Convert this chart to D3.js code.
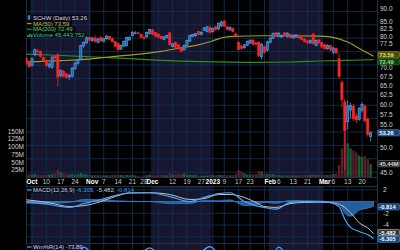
<!DOCTYPE html>
<html>
<head>
<meta charset="utf-8">
<script src="https://cdn.jsdelivr.net/npm/d3@7"></script>
<style>
  html, body { margin: 0; padding: 0; background: #000; }
  svg { display: block; font-family: "Liberation Sans", Arial, sans-serif; }
</style>
</head>
<body>
<div id="chart"></div>
<script>
// SCHW daily, Sep 29 2022 .. Mar 24 2023
const startDay = "2022-09-29", endDay = "2023-03-24";
const holidays = ["2022-11-24", "2022-12-26", "2023-01-02", "2023-01-16", "2023-02-20"];

const opens = [73.0,71.6, 70.8,74.0,75.2,75.0,73.2, 72.2,70.5,70.2,73.6,74.0, 67.8,69.0,68.3,67.4,67.6,
  69.8,71.4,72.6,76.8,77.8, 79.6,78.6,79.5,78.0,79.6, 78.4,79.2,79.9,79.2,78.2, 77.6,75.8,76.8,77.0,78.8,
  80.2,81.0,81.2,80.7, 79.7,79.8,81.0,82.2,81.3, 80.8,80.0,79.0,79.6,81.2, 76.6,77.9,77.2,76.3,75.6,
  77.0,78.4,80.0,80.2,81.6, 80.6,82.0,81.6, 83.0,81.6,83.3,82.6, 83.6,85.3,83.3,82.2,82.8, 80.8,78.0,76.8,76.2,
  77.0,77.8,78.8,77.8,78.0, 73.4,76.6,75.5,78.0,79.4, 81.2,80.0,79.8,81.2,80.0, 80.6,79.5,79.8,80.4,79.6,
  79.0,78.5,77.8,80.8, 77.0,78.8,78.0,77.2,75.9, 77.0,74.8,76.0,72.8,65.8, 60.7,55.8,58.6,59.6,57.2,
  56.4,58.6,59.6,56.4,52.4];
const highs = [73.4,72.3, 73.2,76.0,75.9,75.4,73.4, 72.6,71.6,73.6,74.0,74.6, 69.6,69.4,68.6,68.3,70.3,
  71.8,72.8,77.3,78.3,79.9, 80.0,79.8,80.3,79.4,80.0, 79.4,80.4,80.1,79.6,78.5, 78.0,77.3,78.6,79.9,80.0,
  81.8,81.8,81.7,80.9, 80.3,81.6,82.6,82.5,81.5, 81.0,80.2,80.2,80.6,81.6, 77.8,78.4,77.5,76.6,77.3,
  78.9,80.6,80.9,81.2,81.9, 81.7,83.2,83.6, 83.8,83.0,83.6,84.8, 85.6,85.8,83.6,83.4,83.0, 81.4,78.3,77.2,77.5,
  78.6,79.0,79.0,78.3,78.3, 77.8,77.0,78.5,79.8,81.3, 81.5,81.4,80.6,81.5,81.4, 80.9,80.7,80.8,80.7,79.9,
  79.5,78.9,79.0,81.2, 79.0,79.0,78.2,77.5,77.4, 77.3,76.6,76.3,74.5,66.5, 61.5,61.0,60.4,60.2,57.8,
  59.4,60.6,60.0,56.8,53.6];
const lows = [70.8,70.0, 70.5,73.6,73.8,73.2,71.9, 70.4,69.9,69.8,72.5,64.8, 67.2,67.3,66.9,66.6,67.2,
  69.4,71.0,72.3,76.3,77.5, 78.4,78.2,78.0,77.6,78.2, 78.0,78.9,78.8,77.9,76.4, 75.3,75.5,76.5,76.6,78.5,
  80.0,80.6,80.7,79.4, 79.0,79.6,80.6,80.4,79.8, 79.4,79.0,78.8,79.3,76.8, 76.3,76.2,75.6,74.8,75.3,
  76.7,78.1,79.7,79.8,80.3, 80.4,81.8,81.3, 81.0,81.2,82.0,82.0, 83.3,83.2,82.1,81.8,81.4, 79.6,75.4,75.6,75.9,
  76.8,77.5,77.0,77.0,73.4, 72.6,74.4,75.0,77.6,79.1, 79.8,79.7,79.4,79.8,79.6, 79.3,79.2,79.4,79.2,78.6,
  78.0,77.5,77.5,77.3, 76.7,77.5,76.2,75.6,75.6, 75.2,74.2,74.2,67.0,59.2, 45.5,54.0,56.5,56.0,55.5,
  56.0,58.0,55.6,52.4,51.4];
const closes = [71.2,70.4, 72.8,75.6,75.0,73.5,72.2, 70.7,71.2,73.3,73.0,67.4, 69.2,67.6,67.2,67.9,70.0,
  71.5,72.6,76.9,77.9,79.6, 78.7,79.4,78.3,79.1,78.5, 79.2,80.1,79.0,78.2,76.7, 75.6,77.0,78.4,79.6,79.7,
  81.4,81.2,81.0,79.7, 79.4,81.3,82.3,80.6,80.0, 79.6,79.3,79.8,80.3,77.3, 77.5,76.4,75.9,75.0,77.0,
  78.6,80.3,80.6,80.9,80.6, 81.4,82.9,83.3, 81.3,82.8,82.3,84.6, 85.0,83.5,82.3,83.1,81.6, 80.2,75.7,76.0,77.2,
  78.3,78.7,77.3,77.4,73.8, 77.4,74.8,78.2,79.4,81.0, 80.1,81.1,80.3,80.1,81.1, 79.6,80.4,80.5,79.5,78.9,
  78.3,77.8,78.7,77.6, 78.7,77.8,76.5,75.9,77.0, 75.5,76.2,74.6,67.5,61.2, 53.7,59.6,59.8,56.5,56.2,
  59.0,60.0,56.0,52.9,53.26];
// volume, millions
const volumes = [12,11, 10,12,9,9,10, 9,10,11,14,26, 18,14,12,10,12, 10,11,16,12,11, 9,8,9,8,8, 7,8,8,10,9,
  10,9,8,9,8, 9,7,5,4, 7,8,11,8,7, 8,9,8,7,14, 10,10,11,12,14, 9,10,8,9,5, 6,6,7, 10,9,8,10, 9,9,8,8,8,
  13,24,20,14, 10,10,11,12,22, 20,14,13,11,12, 9,8,7,8,7, 8,7,7,8,8, 9,8,9,12, 9,10,10,10,9,
  10,12,14,42,95, 148,112,95,88,82, 72,68,70,60,45.44];

// moving averages, sampled by trading-day index (0 = Oct 3)
const maIdx   = [-2, 10, 20, 30, 34, 45, 52, 58, 63, 67, 70, 80, 90, 100, 104, 110, 115, 119];
const ma50    = [71.8, 72.2, 72.7, 73.6, 73.9, 75.1, 76.2, 77.2, 78.5, 79.7, 80.0, 80.2, 80.2, 80.1, 79.8, 78.1, 75.5, 73.59];
const ma200Idx = [-2, 10, 20, 34, 45, 60, 75, 90, 100, 110, 119];
const ma200    = [74.2, 73.8, 73.4, 72.8, 72.3, 71.9, 71.7, 71.8, 72.1, 72.3, 72.49];

// MACD(12,26,9), sampled
const macdIdx = [-2, 6, 13, 18, 24, 29, 34, 41, 48, 55, 60, 65, 69, 74, 78, 81, 85, 90, 95, 100, 104, 107, 109, 111, 114, 118, 119];
const macd    = [0.0, -0.5, -1.0, -0.35, 0.35, 1.0, 1.5, 1.5, 0.85, 0.0, 0.7, 1.35, 1.5, 0.0, -0.7, -1.0, -1.3, -0.15, 0.0, 0.0, -0.2, -0.85, -3.0, -4.4, -5.1, -5.9, -6.305];
const signal  = [0.3, -0.2, -0.85, -0.7, 0.0, 0.85, 1.45, 1.5, 1.2, 0.35, 0.5, 1.2, 1.2, 0.7, -0.15, -0.85, -1.0, -0.35, -0.15, -0.1, -0.15, -0.5, -1.0, -1.9, -3.6, -4.9, -5.482];
const hist    = [-0.3, -0.3, -0.15, 0.35, 0.35, 0.15, 0.05, 0.0, -0.35, -0.35, 0.2, 0.15, 0.3, -0.7, -0.55, -0.15, -0.3, 0.2, 0.15, 0.1, -0.05, -0.35, -2.0, -2.5, -1.5, -1.0, -0.814];

// Williams %R(14), sampled
const wrIdx = [-2, 5, 10, 15, 18, 22, 30, 36, 41, 44, 50, 56, 62, 66, 72, 78, 82, 86, 90, 96, 102, 108, 113, 116, 119];
const wr    = [-60, -70, -85, -40, -2, -20, -55, -25, -3, -15, -70, -30, -1, -20, -45, -70, -40, -2, -25, -55, -75, -95, -70, -60, -73.89];

// axis labels
const tickDays = ["2022-10-03","2022-10-10","2022-10-17","2022-10-24","2022-11-01","2022-11-07","2022-11-14",
  "2022-11-21","2022-11-28","2022-12-01","2022-12-12","2022-12-19","2022-12-27","2023-01-03","2023-01-09",
  "2023-01-17","2023-01-23","2023-02-01","2023-02-06","2023-02-13","2023-02-21","2023-03-01","2023-03-06",
  "2023-03-13","2023-03-20"];
const tickText = ["Oct","10","17","24","Nov","7","14","21","28","Dec","12","19","27","2023","9","17","23",
  "Feb","6","13","21","Mar","6","13","20"];
const shadedMonths = ["2022-10", "2022-12", "2023-02"];
const priceTicks = [45, 47.5, 50, 52.5, 55, 57.5, 60, 62.5, 65, 67.5, 70, 72.5, 75, 77.5, 80, 82.5, 85, 90];
const volTicks = [25, 50, 75, 100, 125, 150];
const macdTicks = [2, 0, -2, -4, -6];

// ---- setup
const W = 400, H = 250;
const plotL = 26, plotR = 377;
const price = { top: 0, bottom: 177 };
const axisRow = 186;
const mPanel = { top: 186, bottom: 243 };
const wPanel = { top: 243, bottom: 250 };

const parse = d3.utcParse("%Y-%m-%d");
const fmt = d3.utcFormat("%Y-%m-%d");
const days = d3.utcDays(parse(startDay), d3.utcDay.offset(parse(endDay), 1))
  .filter(d => d.getUTCDay() % 6 !== 0 && !holidays.includes(fmt(d)));
const keys = days.map(fmt);

const x = d3.scalePoint().domain(keys).range([26.26, 373.5]);
const step = x.step();
const xi = i => x(keys[i + 2]);   // index 0 = Oct 3

const y = d3.scaleLog().domain([45, 85]).range([172.7, 22]);
const yVol = d3.scaleLinear().domain([0, 150]).range([177.7, 131.5]);
const yM = d3.scaleLinear().domain([2, -6]).range([189.8, 236.8]);
const yW = d3.scaleLinear().domain([0, -100]).range([246, 306]);

const candles = keys.map((k, i) => ({ k, o: opens[i], h: highs[i], l: lows[i], c: closes[i], v: volumes[i] }));

const svg = d3.select("#chart").append("svg").attr("width", W).attr("height", H);
svg.append("rect").attr("width", W).attr("height", H).attr("fill", "#000");

const defs = svg.append("defs");
function clip(id, top, bottom) {
  defs.append("clipPath").attr("id", id).append("rect")
    .attr("x", plotL).attr("y", top).attr("width", plotR - plotL).attr("height", bottom - top);
  return "url(#" + id + ")";
}
const cPrice = clip("cp", price.top, price.bottom);
const cMacd = clip("cm", mPanel.top, mPanel.bottom);
const cWr = clip("cw", wPanel.top, wPanel.bottom);

const gridColor = "#12345a";
const bandColor = "#16162f";

// month bands and grid for each panel
const monthFirst = m => keys.findIndex(k => k.startsWith(m));
const bands = shadedMonths.map(m => {
  const i = monthFirst(m);
  const nextM = fmt(d3.utcMonth.offset(parse(m + "-01"), 1)).slice(0, 7);
  const j = monthFirst(nextM);
  return { x0: Math.max(plotL, x(keys[i]) - step / 2), x1: j < 0 ? plotR : x(keys[j]) - step / 2 };
});
const weekStarts = keys.filter((k, i) => i > 0 && d3.utcMonday.floor(days[i]) > days[i - 1]);

function panelBack(top, bottom, clipUrl, hLines) {
  const g = svg.append("g").attr("clip-path", clipUrl);
  g.selectAll("rect.band").data(bands).join("rect")
    .attr("x", d => d.x0).attr("y", top).attr("width", d => d.x1 - d.x0).attr("height", bottom - top)
    .attr("fill", bandColor);
  g.selectAll("line.v").data(weekStarts).join("line")
    .attr("x1", d => x(d)).attr("x2", d => x(d)).attr("y1", top).attr("y2", bottom)
    .attr("stroke", gridColor).attr("stroke-width", 0.8);
  g.selectAll("line.h").data(hLines).join("line")
    .attr("x1", plotL).attr("x2", plotR).attr("y1", d => d).attr("y2", d => d)
    .attr("stroke", gridColor).attr("stroke-width", 0.8);
  return g;
}

panelBack(price.top, price.bottom, cPrice, d3.range(13).map(k => 11.4 + k * 13.4));
panelBack(mPanel.top, mPanel.bottom, cMacd, macdTicks.map(yM));
panelBack(wPanel.top, wPanel.bottom + 60, cWr, []);

// panel frames
[price.bottom, mPanel.top, wPanel.top].forEach(yy =>
  svg.append("line").attr("x1", plotL).attr("x2", plotR).attr("y1", yy + 0.5).attr("y2", yy + 0.5)
    .attr("stroke", "#1d3d5e").attr("stroke-width", 0.8));
[plotL, plotR].forEach(xx =>
  svg.append("line").attr("x1", xx + 0.5).attr("x2", xx + 0.5).attr("y1", 0).attr("y2", H)
    .attr("stroke", "#1d3d5e").attr("stroke-width", 0.8));
svg.append("rect").attr("x", plotL + 1).attr("y", price.bottom + 1).attr("width", plotR - plotL - 1)
  .attr("height", axisRow - price.bottom - 1).attr("fill", "#000");

// ---- price panel
const gp = svg.append("g").attr("clip-path", cPrice);
const up = d => d.c >= d.o;

gp.selectAll("rect.vol").data(candles).join("rect")
  .attr("x", d => x(d.k) - 1.2).attr("width", 2.4)
  .attr("y", d => yVol(d.v)).attr("height", d => yVol(0) - yVol(d.v))
  .attr("fill", d => up(d) ? "#1c6a3c" : "#6a2232").attr("opacity", 0.85);

const ma50Line = d3.line().x((d, i) => xi(maIdx[i])).y(d => y(d)).curve(d3.curveMonotoneX);
const ma200Line = d3.line().x((d, i) => xi(ma200Idx[i])).y(d => y(d)).curve(d3.curveMonotoneX);
gp.append("path").attr("d", ma200Line(ma200)).attr("fill", "none").attr("stroke", "#2b8f22").attr("stroke-width", 1.2);
gp.append("path").attr("d", ma50Line(ma50)).attr("fill", "none").attr("stroke", "#a39a23").attr("stroke-width", 1.2);

gp.selectAll("line.wick").data(candles).join("line")
  .attr("x1", d => x(d.k)).attr("x2", d => x(d.k))
  .attr("y1", d => y(d.h)).attr("y2", d => y(d.l))
  .attr("stroke", d => up(d) ? "#4f9fe8" : "#ff2424").attr("stroke-width", 0.8);
gp.selectAll("rect.body").data(candles).join("rect")
  .attr("x", d => x(d.k) - 1.1).attr("width", 2.2)
  .attr("y", d => y(Math.max(d.o, d.c)))
  .attr("height", d => Math.max(0.8, Math.abs(y(d.o) - y(d.c))))
  .attr("fill", d => up(d) ? "#2a64a8" : "#ff2424")
  .attr("stroke", d => up(d) ? "#5aa8f0" : "#ff2424").attr("stroke-width", 0.6);

// ---- MACD panel
const gm = svg.append("g").attr("clip-path", cMacd);
const histArea = d3.area().x((d, i) => xi(macdIdx[i])).y0(yM(0)).y1(d => yM(d)).curve(d3.curveMonotoneX);
gm.append("path").attr("d", histArea(hist)).attr("fill", "#245f9c").attr("stroke", "#3f8fd8").attr("stroke-width", 0.6);
const mLine = d3.line().x((d, i) => xi(macdIdx[i])).y(d => yM(d)).curve(d3.curveMonotoneX);
gm.append("path").attr("d", mLine(signal)).attr("fill", "none").attr("stroke", "#c4c4c4").attr("stroke-width", 1);
gm.append("path").attr("d", mLine(macd)).attr("fill", "none").attr("stroke", "#4aa6ff").attr("stroke-width", 1.2);

// ---- Williams %R panel
const gw = svg.append("g").attr("clip-path", cWr);
const wLine = d3.line().x((d, i) => xi(wrIdx[i])).y(d => yW(d)).curve(d3.curveMonotoneX);
gw.append("path").attr("d", wLine(wr)).attr("fill", "none").attr("stroke", "#4aa6ff").attr("stroke-width", 1.2);

// ---- x axis labels
svg.append("g").selectAll("text").data(tickDays).join("text")
  .attr("x", d => x(d)).attr("y", 184.3)
  .attr("text-anchor", "middle").attr("font-size", 6.5)
  .attr("font-weight", (d, i) => isNaN(+tickText[i]) || tickText[i].length === 4 ? "bold" : "normal")
  .attr("fill", (d, i) => isNaN(+tickText[i]) || tickText[i].length === 4 ? "#ffffff" : "#c8c8c8")
  .text((d, i) => tickText[i]);

// value boxes on the right
const boxes = [
  { yy: y(ma50[ma50.length - 1]) - 1.5, t: "73.59", fill: "#4d4a0c", stroke: "#a39a23", col: "#e8e070" },
  { yy: y(ma200[ma200.length - 1]) + 2, t: "72.49", fill: "#123d12", stroke: "#2b8f22", col: "#9be08f" },
  { yy: y(closes[closes.length - 1]), t: "53.26", fill: "#1b4475", stroke: "#4f9fe8", col: "#ffffff" },
  { yy: yVol(volumes[volumes.length - 1]), t: "45.44M", fill: "#111", stroke: "#888", col: "#e0e0e0" },
  { yy: yM(hist[hist.length - 1]) + 0.5, t: "-0.814", fill: "#1b4475", stroke: "#3f8fd8", col: "#ffffff" },
  { yy: yM(signal[signal.length - 1]) - 1.2, t: "-5.482", fill: "#3a3a3a", stroke: "#c4c4c4", col: "#ffffff" },
  { yy: yM(macd[macd.length - 1]) + 0.6, t: "-6.305", fill: "#1b4475", stroke: "#4aa6ff", col: "#ffffff" }
];
const clear = v => boxes.every(b => Math.abs(b.yy - v) > 6.2);

// ---- right axes (labels covered by a value box are left out)
const gr = svg.append("g").attr("font-size", 6.5).attr("fill", "#cfcfcf");
gr.selectAll("text.p").data(priceTicks.filter(d => clear(y(d)))).join("text")
  .attr("x", 380).attr("y", d => y(d)).attr("dy", "0.35em").text(d => d.toFixed(1));
gr.selectAll("text.m").data(macdTicks.filter(d => clear(yM(d)))).join("text")
  .attr("x", 383).attr("y", d => yM(d)).attr("dy", "0.35em").text(d => d);

// left volume axis
svg.append("g").attr("font-size", 6.5).attr("fill", "#cfcfcf").attr("text-anchor", "end")
  .selectAll("text").data(volTicks).join("text")
  .attr("x", 24).attr("y", d => yVol(d)).attr("dy", "0.35em").text(d => d + "M");

const gb = svg.append("g").selectAll("g").data(boxes).join("g");
gb.append("rect").attr("x", 378).attr("y", d => d.yy - 3.1).attr("width", 21.5).attr("height", 6.2)
  .attr("fill", d => d.fill).attr("stroke", d => d.stroke).attr("stroke-width", 0.6).attr("rx", 1);
gb.append("text").attr("x", 379.3).attr("y", d => d.yy).attr("dy", "0.35em")
  .attr("font-size", 5.8).attr("font-weight", "bold").attr("fill", d => d.col).text(d => d.t);

// ---- legends
function legendRow(yy, width, icon, parts) {
  svg.append("rect").attr("x", 26).attr("y", yy - 3.2).attr("width", width).attr("height", 6)
    .attr("fill", "#000").attr("opacity", 0.55);
  icon(yy);
  const t = svg.append("text").attr("x", 33).attr("y", yy).attr("dy", "0.35em").attr("font-size", 6);
  parts.forEach(p => t.append("tspan").attr("fill", p[1]).text(p[0]));
}
legendRow(17.5, 61, yy => {
  svg.append("line").attr("x1", 29).attr("x2", 29).attr("y1", yy - 2.5).attr("y2", yy + 2.5).attr("stroke", "#4f9fe8");
  svg.append("rect").attr("x", 28).attr("y", yy - 1.5).attr("width", 2).attr("height", 3).attr("fill", "#2a64a8").attr("stroke", "#5aa8f0").attr("stroke-width", 0.5);
}, [["SCHW (Daily) 53.26", "#d8d8e0"]]);
legendRow(23.5, 46, yy => {
  svg.append("line").attr("x1", 27).attr("x2", 31.5).attr("y1", yy).attr("y2", yy).attr("stroke", "#a39a23").attr("stroke-width", 1.2);
}, [["MA(50) 73.59", "#c8bf3c"]]);
legendRow(29.3, 50, yy => {
  svg.append("line").attr("x1", 27).attr("x2", 31.5).attr("y1", yy).attr("y2", yy).attr("stroke", "#2b8f22").attr("stroke-width", 1.2);
}, [["MA(200) 72.49", "#4fc94a"]]);
legendRow(35, 60, yy => {
  [[27.3, 2], [29.2, 3.2], [31.1, 2.4]].forEach(b =>
    svg.append("rect").attr("x", b[0]).attr("y", yy + 2 - b[1]).attr("width", 1.4).attr("height", b[1]).attr("fill", "#2fae5a"));
}, [["Volume 45,443,752", "#2fc46a"]]);

legendRow(190, 90, yy => {
  svg.append("line").attr("x1", 27).attr("x2", 31.5).attr("y1", yy).attr("y2", yy).attr("stroke", "#4aa6ff").attr("stroke-width", 1.2);
}, [["MACD(12,26,9) ", "#d0d0d0"], ["-6.305, ", "#4aa6ff"], ["-5.482, ", "#d0d0d0"], ["-0.814", "#3f8fd8"]]);

legendRow(247, 48, yy => {
  svg.append("line").attr("x1", 27).attr("x2", 31.5).attr("y1", yy).attr("y2", yy).attr("stroke", "#4aa6ff").attr("stroke-width", 1.2);
}, [["Wm%R(14) -73.89", "#c8d4ff"]]);
</script>
</body>
</html>
